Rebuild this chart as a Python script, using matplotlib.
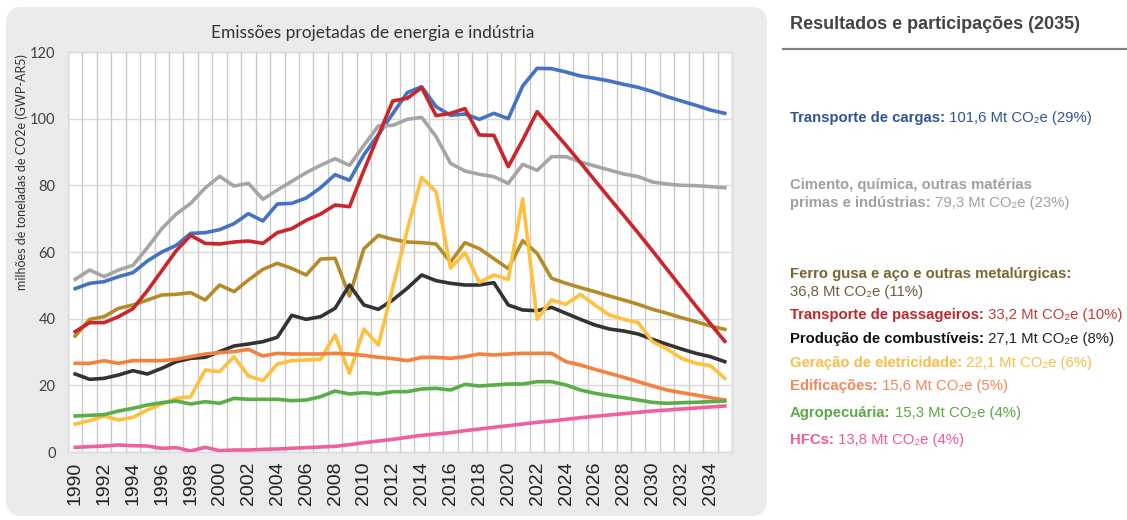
import numpy as np
import matplotlib
matplotlib.use("Agg")
import matplotlib.pyplot as plt
from matplotlib.patches import FancyBboxPatch
from matplotlib.transforms import IdentityTransform

# categories
years = list(range(1990, 2036))
tick_years = list(range(1990, 2035, 2))

# series values (Mt CO2e), 1990..2035
cargas = [49.0, 50.6, 51.1, 52.6, 53.8, 57.3, 60.0, 62.0, 65.6, 65.8,
          66.7, 68.5, 71.5, 69.3, 74.4, 74.6, 76.2, 79.3, 83.2, 81.5,
          89.2, 95.2, 101.5, 107.8, 109.6, 103.6, 101.0, 101.4, 99.8, 101.6,
          100.0, 109.8, 115.1, 115.0, 114.0, 112.8, 112.1, 111.3, 110.3, 109.4,
          108.1, 106.6, 105.3, 104.0, 102.6, 101.6]
cimento = [51.8, 54.6, 52.6, 54.6, 56.0, 61.3, 67.0, 71.4, 74.6, 79.2,
           82.7, 79.8, 80.6, 75.8, 78.6, 81.2, 83.8, 86.0, 88.0, 86.0,
           92.0, 97.8, 98.0, 99.8, 100.4, 94.6, 86.6, 84.3, 83.3, 82.6,
           80.6, 86.3, 84.5, 88.6, 88.6, 87.0, 85.8, 84.6, 83.4, 82.6,
           81.0, 80.4, 80.0, 79.9, 79.6, 79.3]
ferro = [34.8, 39.8, 40.6, 43.1, 44.1, 45.6, 47.1, 47.3, 47.8, 45.6,
         50.1, 48.1, 51.6, 54.8, 56.6, 55.1, 53.1, 57.9, 58.1, 46.8,
         61.0, 65.0, 63.8, 63.0, 62.8, 62.4, 57.0, 62.8, 61.0, 58.0,
         55.0, 63.4, 59.6, 52.1, 50.6, 49.3, 48.1, 46.8, 45.6, 44.3,
         42.8, 41.6, 40.3, 39.1, 37.8, 36.8]
passageiros = [36.1, 38.8, 38.8, 40.6, 43.0, 48.4, 54.4, 60.4, 65.0, 62.6,
               62.4, 63.0, 63.3, 62.6, 65.8, 67.0, 69.5, 71.4, 74.1, 73.6,
               84.5, 95.0, 105.3, 106.1, 109.3, 100.9, 101.6, 103.0, 95.1, 95.0,
               85.6, 93.6, 102.1, 97.0, 92.0, 86.8, 81.5, 76.2, 71.0, 65.7,
               60.3, 54.8, 49.3, 43.8, 38.5, 33.2]
combustiveis = [23.4, 21.8, 22.1, 23.1, 24.4, 23.4, 25.1, 27.1, 28.1, 28.4,
                30.1, 31.8, 32.4, 33.1, 34.4, 41.0, 39.8, 40.6, 43.1, 50.1,
                44.1, 42.8, 45.6, 49.1, 53.1, 51.4, 50.6, 50.1, 50.1, 50.8,
                44.1, 42.6, 42.4, 43.4, 41.6, 39.8, 38.1, 36.9, 36.3, 35.4,
                33.8, 32.3, 30.9, 29.6, 28.6, 27.1]
eletricidade = [8.4, 9.4, 10.8, 9.6, 10.4, 12.6, 14.4, 16.1, 16.6, 24.6,
                24.1, 28.6, 22.8, 21.4, 26.4, 27.4, 27.6, 27.8, 35.1, 23.6,
                36.9, 32.1, 49.3, 66.6, 82.4, 78.1, 55.2, 59.8, 50.9, 53.1,
                51.8, 76.0, 39.8, 45.6, 44.3, 47.3, 44.1, 41.1, 39.8, 38.8,
                33.1, 30.9, 28.1, 26.6, 25.9, 22.1]
edificacoes = [26.6, 26.6, 27.4, 26.6, 27.4, 27.4, 27.4, 27.8, 28.6, 29.4,
               29.8, 30.1, 30.8, 28.8, 29.6, 29.4, 29.4, 29.4, 29.6, 29.4,
               29.0, 28.4, 28.0, 27.4, 28.4, 28.4, 28.1, 28.6, 29.4, 29.1,
               29.4, 29.6, 29.6, 29.6, 27.1, 26.1, 24.8, 23.6, 22.4, 21.1,
               19.8, 18.6, 17.8, 17.1, 16.3, 15.6]
agro = [10.8, 11.0, 11.2, 12.3, 13.1, 14.1, 14.8, 15.3, 14.4, 15.1,
        14.6, 16.1, 15.8, 15.8, 15.8, 15.4, 15.6, 16.6, 18.3, 17.4,
        17.8, 17.4, 18.1, 18.1, 18.9, 19.1, 18.6, 20.3, 19.8, 20.1,
        20.4, 20.4, 21.1, 21.1, 20.1, 18.6, 17.6, 16.9, 16.3, 15.6,
        14.9, 14.6, 14.8, 14.9, 15.1, 15.3]
hfcs = [1.4, 1.6, 1.8, 2.1, 1.9, 1.8, 1.1, 1.3, 0.3, 1.4,
        0.4, 0.6, 0.6, 0.8, 0.9, 1.1, 1.3, 1.5, 1.7, 2.2,
        2.8, 3.3, 3.8, 4.4, 5.0, 5.4, 5.8, 6.4, 6.9, 7.4,
        7.9, 8.4, 8.9, 9.3, 9.8, 10.3, 10.7, 11.1, 11.5, 11.9,
        12.3, 12.6, 12.9, 13.2, 13.5, 13.8]

series = [
    (cargas, '#4472C4'),
    (cimento, '#A5A5A5'),
    (ferro, '#B58B2A'),
    (passageiros, '#CC2529'),
    (combustiveis, '#333333'),
    (eletricidade, '#FFC03E'),
    (edificacoes, '#F5813F'),
    (agro, '#5AAE46'),
    (hfcs, '#F0609E'),
]

W, H = 1127, 520
fig = plt.figure(figsize=(W / 100, H / 100), dpi=100)
fig.patch.set_facecolor('white')

# grey panel behind the chart
panel = FancyBboxPatch((6, 4), 761, 509, boxstyle="round,pad=0,rounding_size=16",
                       transform=IdentityTransform(), facecolor='#EBEBEB',
                       edgecolor='none', zorder=-5)
fig.patches.append(panel)

ax = fig.add_axes([68 / W, 1 - 452 / H, (732 - 68) / W, 400 / H])
ax.set_zorder(2)
ax.set_facecolor('white')
for (vals, col) in series:
    ax.plot(years, vals, color=col, lw=2.6, solid_joinstyle='round', zorder=3)

ax.set_xlim(1989.5, 2035.5)
ax.set_ylim(0, 120)
ax.set_yticks(range(0, 121, 20))
ax.set_xticks(tick_years)
ax.set_xticks(np.arange(1989.5, 2036, 1.0), minor=True)
ax.grid(which='minor', axis='x', color='#C9C9C9', lw=1.0, zorder=1)
ax.grid(which='major', axis='y', color='#D9D9D9', lw=1.0, zorder=1)
ax.tick_params(which='both', length=0)
ax.tick_params(axis='x', pad=7)
ax.tick_params(axis='y', pad=9)
for s in ax.spines.values():
    s.set_color('#D9D9D9')
    s.set_linewidth(1.0)

for lab in ax.get_xticklabels():
    lab.set_rotation(90)
    lab.set_fontfamily('Liberation Sans')
    lab.set_fontsize(14)
    lab.set_color('#222222')
    lab.set_va('top')
for lab in ax.get_yticklabels():
    lab.set_fontfamily('Lato')
    lab.set_fontsize(10.5)
    lab.set_color('#404040')

fig.text(373 / W, 1 - 33 / H, 'Emissões projetadas de energia e indústria',
         family='Lato', fontsize=12.5, color='#333333', ha='center', va='center')
fig.text(22 / W, 1 - 172 / H, 'milhões de toneladas de CO2e (GWP-AR5)',
         family='Lato', fontsize=9, color='#333333', rotation=90,
         ha='center', va='center')

# right-hand summary
fig.text(790 / W, 1 - 24 / H, 'Resultados e participações (2035)',
         family='Liberation Sans', fontsize=13, fontweight='bold',
         color='#444444', ha='left', va='center')
fig.add_artist(plt.Line2D([783 / W, 1.0], [1 - 49 / H, 1 - 49 / H],
                          color='#7F7F7F', lw=1.6))

renderer = fig.canvas.get_renderer()
FAM = ['Liberation Sans', 'DejaVu Sans']


def rich(y, parts, size=10.7):
    x = 790
    for txt, bold, col in parts:
        t = fig.text(x / W, 1 - y / H, txt, family=FAM, fontsize=size,
                     fontweight='bold' if bold else 'normal', color=col,
                     ha='left', va='center')
        x = t.get_window_extent(renderer).x1


rich(118, [('Transporte de cargas:', True, '#2F5597'),
           (' 101,6 Mt CO₂e (29%)', False, '#2F5597')])
rich(185, [('Cimento, química, outras matérias', True, '#A0A0A0')])
rich(203, [('primas e indústrias:', True, '#A0A0A0'),
           (' 79,3 Mt CO₂e (23%)', False, '#A0A0A0')])
rich(274, [('Ferro gusa e aço e outras metalúrgicas:', True, '#7A6530')])
rich(292, [('36,8 Mt CO₂e (11%)', False, '#6E5E3C')])
rich(315, [('Transporte de passageiros:', True, '#C0272D'),
           (' 33,2 Mt CO₂e (10%)', False, '#C83A3A')])
rich(339, [('Produção de combustíveis:', True, '#111111'),
           (' 27,1 Mt CO₂e (8%)', False, '#222222')])
rich(363, [('Geração de eletricidade:', True, '#F7BE4A'),
           (' 22,1 Mt CO₂e (6%)', False, '#F7BE4A')])
rich(386, [('Edificações:', True, '#F2875A'),
           (' 15,6 Mt CO₂e (5%)', False, '#F2875A')])
rich(413, [('Agropecuária:', True, '#5AA846'),
           (' 15,3 Mt CO₂e (4%)', False, '#5AA846')])
rich(440, [('HFCs:', True, '#EE5A9A'),
           (' 13,8 Mt CO₂e (4%)', False, '#EE5A9A')])

fig.savefig('out.png', dpi=100)
